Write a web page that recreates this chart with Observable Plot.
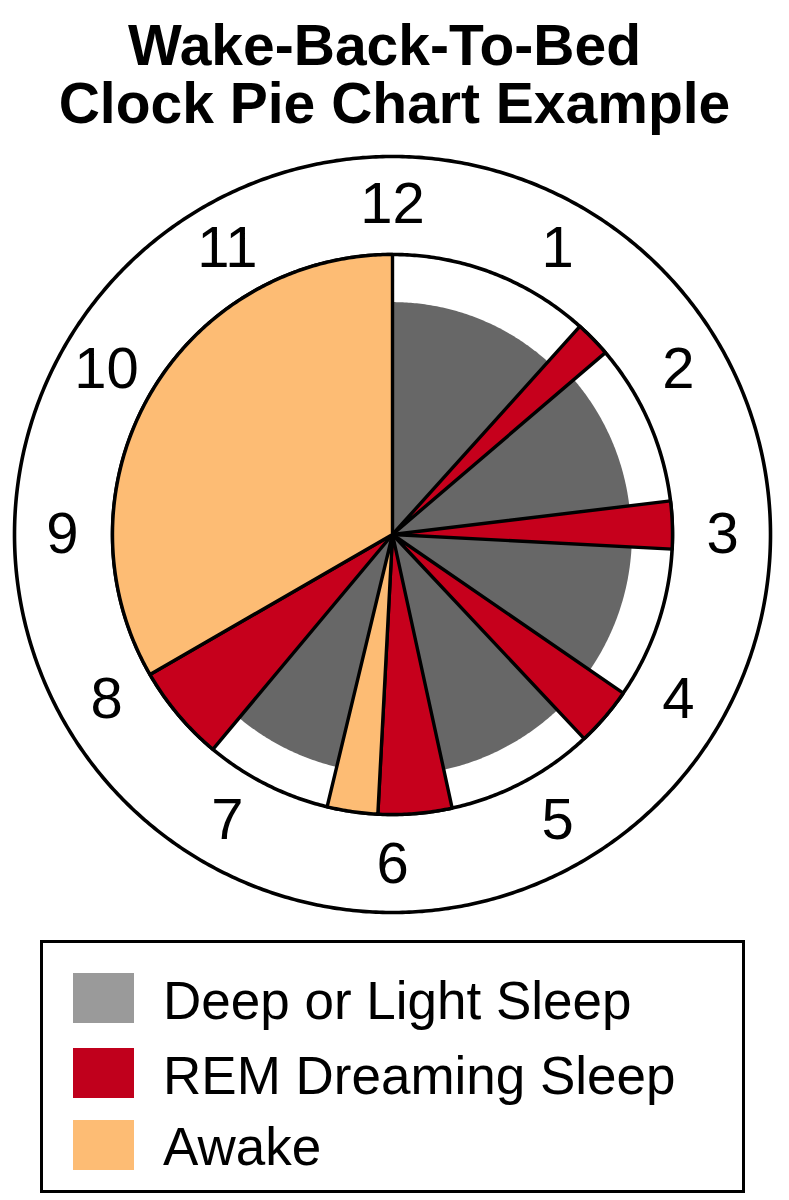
<!DOCTYPE html>
<html>
<head>
<meta charset="utf-8">
<script src="https://cdn.jsdelivr.net/npm/d3@7"></script>
<script src="https://cdn.jsdelivr.net/npm/@observablehq/plot@0.6"></script>
<style>
  body { margin: 0; background: #fff; font-family: "Liberation Sans", Arial, sans-serif; }
  #wrap { position: relative; width: 789px; height: 1200px; overflow: hidden; }
  #title { position: absolute; left: 0; top: 16px; width: 789px; text-align: center;
           font-weight: bold; font-size: 57px; line-height: 58px; color: #000; }
  #title .l1 { position: relative; left: -10px; }
  #chart { position: absolute; left: 0; top: 140px; }
  #legend { position: absolute; left: 40px; top: 940px; width: 705px; height: 253px;
            box-sizing: border-box; border: 3px solid #000; background: #fff; }
  .sw { position: absolute; left: 30px; width: 61px; height: 50px; }
  .lab { position: absolute; left: 120px; font-size: 53px; line-height: 53px; color: #000; white-space: nowrap; }
</style>
</head>
<body>
<div id="wrap">
  <div id="title"><div class="l1">Wake-Back-To-Bed</div><div>Clock Pie Chart Example</div></div>
  <div id="chart"></div>
  <div id="legend"></div>
</div>
<script>
// ---- data ----
const hourLabels = ["12", "1", "2", "3", "4", "5", "6", "7", "8", "9", "10", "11"];
const labelHours = [0, 1, 2, 3, 4, 5, 6, 7, 8, 9, 10, 11];

const segStartHours = [0, 1.40, 1.65, 2.77, 3.10, 4.15, 4.56, 5.59, 6.10, 6.45, 7.33, 8.00];
const segEndHours   = [1.40, 1.65, 2.77, 3.10, 4.15, 4.56, 5.59, 6.10, 6.45, 7.33, 8.00, 12];
const segStates = [
  "Deep or Light Sleep", "REM Dreaming Sleep",
  "Deep or Light Sleep", "REM Dreaming Sleep",
  "Deep or Light Sleep", "REM Dreaming Sleep",
  "Deep or Light Sleep", "REM Dreaming Sleep",
  "Awake",
  "Deep or Light Sleep", "REM Dreaming Sleep",
  "Awake"
];
// relative radius of each slice (1 = full pie)
const segRadius = [0.83, 1, 0.852, 1, 0.855, 1, 0.86, 1, 1, 0.854, 1, 1];

const stateNames   = ["Deep or Light Sleep", "REM Dreaming Sleep", "Awake"];
const stateColors  = ["#676767", "#c6001c", "#fdbc74"];
const legendColors = ["#9a9a9a", "#c0001c", "#fdbc74"];

// ---- layout ----
const W = 789, H = 790;
const R = 280;            // px per unit radius
const cx = 392, cy = 394; // centre in svg px
const outerRadius = 1.35;
const labelRadius = 1.179;

const TAU = 2 * Math.PI;
function arcPoints(r, a0, a1, id, extra) {
  const n = Math.max(2, Math.ceil(Math.abs(a1 - a0) / (Math.PI / 360)));
  const pts = [];
  for (let k = 0; k <= n; k++) {
    const a = a0 + (a1 - a0) * k / n;
    pts.push({x: r * Math.sin(a), y: r * Math.cos(a), id, ...extra});
  }
  return pts;
}
function wedge(i) {
  const a0 = segStartHours[i] / 12 * TAU, a1 = segEndHours[i] / 12 * TAU;
  const extra = {state: segStates[i]};
  return [{x: 0, y: 0, id: i, ...extra}, ...arcPoints(segRadius[i], a0, a1, i, extra), {x: 0, y: 0, id: i, ...extra}];
}
const wedges = segStates.map((_, i) => wedge(i));
const grayPts = wedges.filter((_, i) => segStates[i] === stateNames[0]).flat();
const otherPts = wedges.filter((_, i) => segStates[i] !== stateNames[0]).flat();

const outerCircle = arcPoints(outerRadius, 0, TAU, "outer", {});
const innerCircle = arcPoints(1, 0, TAU, "inner", {});

const chart = Plot.plot({
  width: W, height: H,
  margin: 0,
  style: {fontFamily: "'Liberation Sans', Arial, sans-serif", background: "white", overflow: "visible"},
  x: {domain: [-cx / R, (W - cx) / R], axis: null},
  y: {domain: [-(H - cy) / R, cy / R], axis: null},
  color: {domain: stateNames, range: stateColors},
  marks: [
    Plot.line(outerCircle, {x: "x", y: "y", fill: "white", stroke: "black", strokeWidth: 3.6}),
    Plot.line(innerCircle, {x: "x", y: "y", fill: "white", stroke: "black", strokeWidth: 3.6}),
    Plot.line(grayPts, {x: "x", y: "y", z: "id", fill: "state", stroke: "none"}),
    Plot.line(otherPts, {x: "x", y: "y", z: "id", fill: "state", stroke: "black", strokeWidth: 3.4, strokeLinejoin: "round"}),
    Plot.text(labelHours, {
      x: h => labelRadius * Math.sin(h / 12 * TAU),
      y: h => labelRadius * Math.cos(h / 12 * TAU),
      text: (h, i) => hourLabels[i],
      fontSize: 58, fill: "black"
    })
  ]
});
document.getElementById("chart").appendChild(chart);

// ---- legend ----
const legend = document.getElementById("legend");
const swTops = [30, 105, 177];
const labTops = [31, 106, 177];
stateNames.forEach((name, i) => {
  const sw = document.createElement("div");
  sw.className = "sw";
  sw.style.top = swTops[i] + "px";
  sw.style.background = legendColors[i];
  legend.appendChild(sw);
  const lab = document.createElement("div");
  lab.className = "lab";
  lab.style.top = labTops[i] + "px";
  lab.textContent = name;
  legend.appendChild(lab);
});
</script>
</body>
</html>
